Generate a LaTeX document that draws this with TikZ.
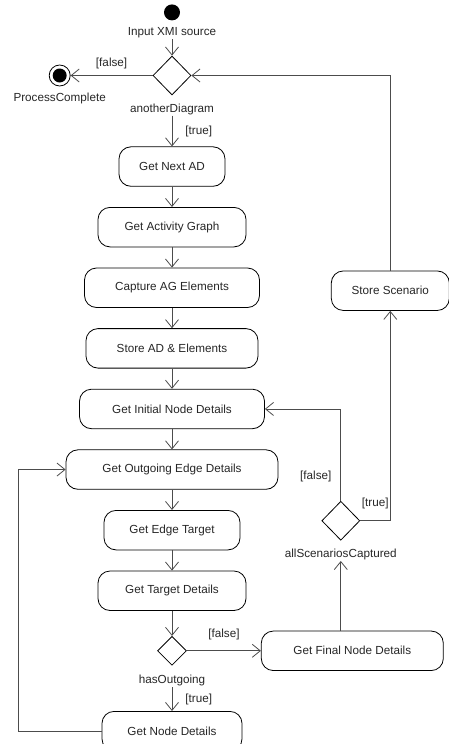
\documentclass[tikz,border=0pt]{standalone}
\usepackage{fontspec}
\setmainfont{Liberation Sans}
\usepackage{tikz}
\usetikzlibrary{shapes,arrows.meta,positioning}

\begin{document}
\begin{tikzpicture}[x=1pt, y=1pt, node distance=20.3pt,
    font=\fontsize{11.7}{14}\selectfont, text=black!85,
    action/.style={rectangle, draw, line width=0.8pt, rounded corners=12pt, minimum height=39.5pt, inner sep=2pt},
    decision/.style={diamond, draw, line width=0.8pt, inner sep=0pt},
    lbl/.style={inner sep=1pt},
    flow/.style={-{Straight Barb[length=8pt,width=13pt]}, line width=0.8pt, draw=black!70}]
    \useasboundingbox (0,0) rectangle (449,-744);
    % Nodes
    \node (d1) [decision, minimum width=38pt, minimum height=39pt] at (172,-75.5) {};
    \node (start) [circle, fill, minimum size=16pt, inner sep=0pt, above=35pt of d1] {};
    \node (inputlbl) [lbl, below=6pt of start] {Input XMI source};
    \node (final) [circle, draw, line width=0.8pt, minimum size=21pt, inner sep=0pt, left=82pt of d1,
        path picture={\fill (path picture bounding box.center) circle (7pt);}] {};
    \node (donelbl) [lbl, below=5pt of final] {ProcessComplete};
    \node (anotherlbl) [lbl, below=7pt of d1] {anotherDiagram};
    \node (gna) [action, minimum width=106pt, below=51pt of d1] {Get Next AD};
    \node (gag) [action, minimum width=148pt, below=of gna] {Get Activity Graph};
    \node (cap) [action, minimum width=175pt, below=of gag] {Capture AG Elements};
    \node (sad) [action, minimum width=172pt, below=of cap] {Store AD \& Elements};
    \node (gind) [action, minimum width=185pt, below=of sad] {Get Initial Node Details};
    \node (goed) [action, minimum width=212pt, below=of gind] {Get Outgoing Edge Details};
    \node (get) [action, minimum width=136pt, below=of goed] {Get Edge Target};
    \node (gtd) [action, minimum width=148pt, below=of get] {Get Target Details};
    \node (d3) [decision, minimum size=29pt, below=25pt of gtd] {};
    \node (haslbl) [lbl, below=8pt of d3] {hasOutgoing};
    \node (gnd) [action, minimum width=140pt, below=45.3pt of d3] {Get Node Details};
    \node (gfnd) [action, minimum width=182pt, right=74pt of d3] {Get Final Node Details};
    \node (d2) [decision, minimum width=38pt, minimum height=39pt, above=90pt of gfnd, xshift=-11.5pt] {};
    \node (scnlbl) [lbl, below=7pt of d2] {allScenariosCaptured};
    \node (store) [action, minimum width=118pt, above=190pt of d2, xshift=49.5pt] {Store Scenario};
    \coordinate (back) at ([xshift=-83pt]gnd.west);

    % Edges
    \draw[flow] (inputlbl) -- (d1);
    \draw[flow] (d1) -- node[lbl, above=5pt] {[false]} (final);
    \draw[flow] (anotherlbl) -- node[lbl, right=12pt] {[true]} (gna);
    \draw[flow] (gna) -- (gag);
    \draw[flow] (gag) -- (cap);
    \draw[flow] (cap) -- (sad);
    \draw[flow] (sad) -- (gind);
    \draw[flow] (gind) -- (goed);
    \draw[flow] (goed) -- (get);
    \draw[flow] (get) -- (gtd);
    \draw[flow] (gtd) -- (d3);
    \draw[flow] (d3) -- node[lbl, above=9pt] {[false]} (gfnd);
    \draw[flow] (haslbl) -- node[lbl, right=12pt] {[true]} (gnd);
    \draw[flow] (gfnd.north -| scnlbl.south) -- (scnlbl);
    \draw[flow] (d2.east) -| node[lbl, pos=0.25, above=10pt] {[true]} (store);
    \draw[flow] (d2) |- node[lbl, pos=0.13, left=8pt] {[false]} (gind);
    \draw[flow] (store) |- (d1);
    \draw[flow] (gnd.west) -- (back) |- (goed);
\end{tikzpicture}
\end{document}
